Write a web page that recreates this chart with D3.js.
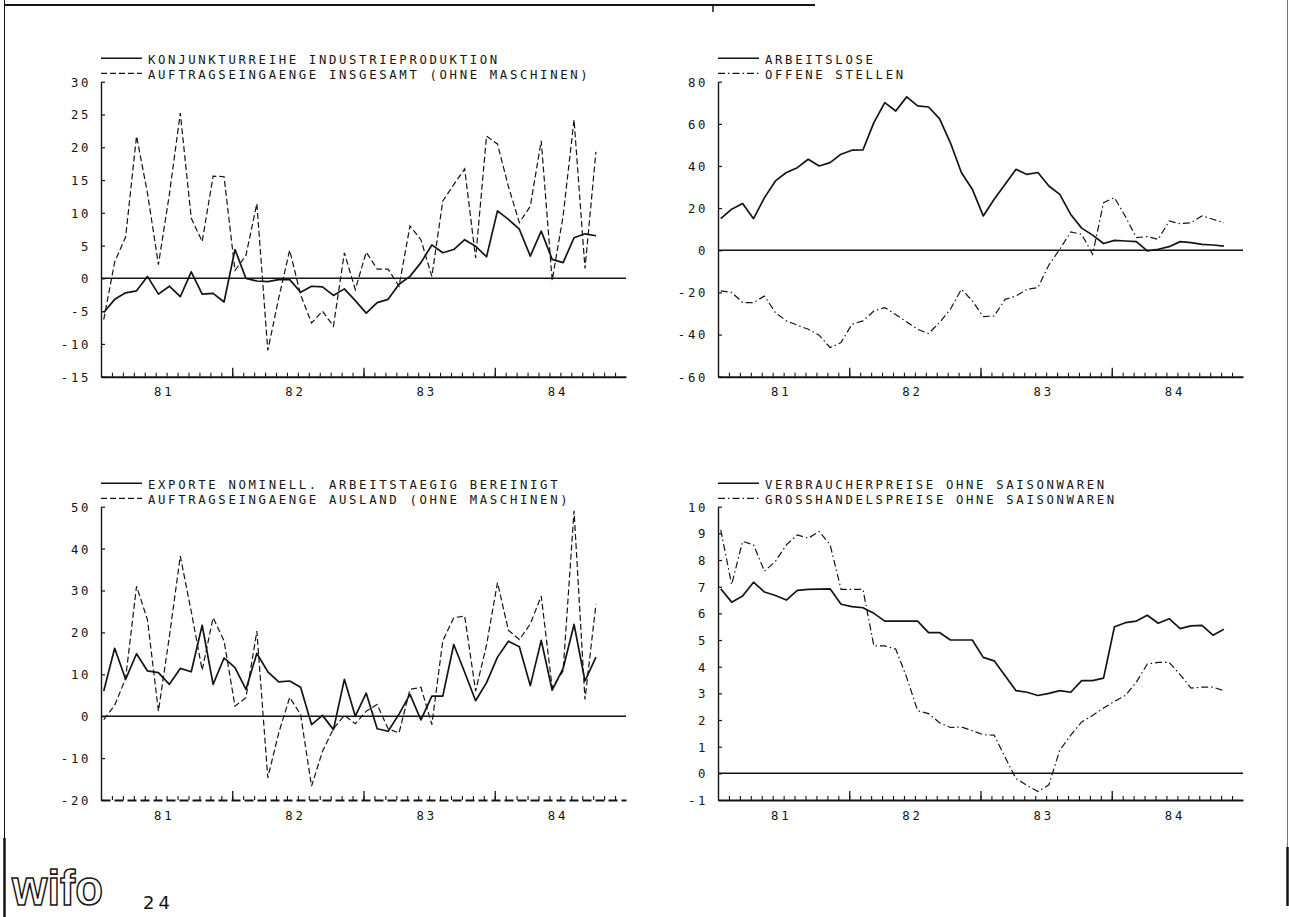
<!DOCTYPE html>
<html>
<head>
<meta charset="utf-8">
<script src="https://d3js.org/d3.v7.min.js"></script>
<style>
  html, body { margin: 0; padding: 0; background: #fff; }
  svg { display: block; }
</style>
</head>
<body>
<div id="chart"></div>
<script>
// year labels on the x axes (monthly data, Jan 1981 onward)
const yearLabels = ["81", "82", "83", "84"];

// top left: industrial production vs. total orders
const legendInd = ["KONJUNKTURREIHE INDUSTRIEPRODUKTION", "AUFTRAGSEINGAENGE INSGESAMT (OHNE MASCHINEN)"];
const ticksInd = [30, 25, 20, 15, 10, 5, 0, -5, -10, -15];
const industrieProduktion = [-5.2, -3.2, -2.2, -1.9, 0.3, -2.4, -1.2, -2.8, 1.0, -2.4, -2.3, -3.6, 4.4, 0, -0.4, -0.5,
  -0.2, -0.2, -2.1, -1.2, -1.3, -2.6, -1.6, -3.4, -5.3, -3.7, -3.2, -0.9, 0.3, 2.4, 5.1, 3.9, 4.4, 5.9, 4.9, 3.3,
  10.3, 9.0, 7.5, 3.4, 7.2, 2.9, 2.4, 6.2, 6.8, 6.5];
const auftraegeInsgesamt = [-6.3, 2.5, 6.3, 21.7, 13, 2.1, 12.8, 25.2, 9.2, 5.6, 15.6, 15.5, 1.2, 3.5, 11.4, -11,
  -3, 4.3, -2.5, -6.8, -5, -7.3, 3.9, -1.7, 4.0, 1.4, 1.4, -1.2, 8.0, 5.9, 0.3, 11.8, 14.3, 16.7, 3.1, 21.7,
  20.5, 14, 8.5, 11, 21, -0.3, 9.5, 24.2, 1.5, 19.3];

// top right: unemployed vs. vacancies
const legendArb = ["ARBEITSLOSE", "OFFENE STELLEN"];
const ticksArb = [80, 60, 40, 20, 0, -20, -40, -60];
const arbeitslose = [15, 19.5, 22.2, 15, 25, 32.9, 36.9, 39.2, 43.2, 40, 41.6, 45.6, 47.5, 47.6, 60.6, 70.1, 66.1,
  72.8, 68.5, 68, 62.5, 51, 36.9, 29, 16.3, 24.2, 31.3, 38.4, 36, 36.9, 30.5, 26.5, 17, 10.5, 7.2, 3.2, 4.7, 4.4,
  4.1, -0.3, 0.5, 1.7, 4.1, 3.6, 2.8, 2.5, 2.0];
const offeneStellen = [-19.3, -20, -24.8, -24.8, -21.7, -29.6, -33.5, -35.5, -37.5, -40.3, -46.2, -43.8, -35.1,
  -33.5, -28.8, -27.2, -30.5, -34, -37.5, -39.5, -34.3, -28, -18.5, -24, -31.5, -31.2, -23.3, -21.7, -18.5, -17.7,
  -7, 0.5, 8.7, 7.6, -1.9, 22.6, 25, 16, 6, 6.5, 5.2, 13.9, 12.6, 13.1, 16.3, 14.7, 13.1];

// bottom left: exports vs. foreign orders
const legendExp = ["EXPORTE NOMINELL. ARBEITSTAEGIG BEREINIGT", "AUFTRAGSEINGAENGE AUSLAND (OHNE MASCHINEN)"];
const ticksExp = [50, 40, 30, 20, 10, 0, -10, -20];
const exporte = [6, 16.2, 8.8, 14.9, 10.8, 10.4, 7.6, 11.4, 10.6, 21.7, 7.6, 13.9, 11.6, 6.4, 15, 10.6, 8.2, 8.4,
  6.9, -2, 0.2, -3.2, 8.8, 0, 5.5, -3, -3.6, 0.5, 5.2, -0.9, 4.8, 4.8, 17.1, 10.5, 3.7, 8, 14.1, 17.9, 16.6, 7.3,
  18.1, 6.2, 11.4, 21.9, 8.4, 14.1];
const auftraegeAusland = [-0.8, 2.6, 9, 31, 23, 1.2, 19, 38.2, 25, 11, 23.5, 18, 2.4, 4.4, 20.3, -14.7, -4, 4.5,
  0.4, -16.7, -8.4, -3, 0.2, -1.8, 1.2, 2.8, -3, -4, 6.4, 6.9, -2, 18, 23.5, 23.9, 6, 17, 31.9, 20.5, 18.3, 22,
  28.7, 6.8, 10.8, 49, 4, 26.7];

// bottom right: consumer vs. wholesale prices
const legendPreise = ["VERBRAUCHERPREISE OHNE SAISONWAREN", "GROSSHANDELSPREISE OHNE SAISONWAREN"];
const ticksPreise = [10, 9, 8, 7, 6, 5, 4, 3, 2, 1, 0, -1];
const verbraucherpreise = [6.92, 6.42, 6.65, 7.17, 6.8, 6.67, 6.5, 6.86, 6.9, 6.91, 6.92, 6.34, 6.25, 6.21, 6.0,
  5.71, 5.71, 5.71, 5.71, 5.28, 5.28, 5.0, 5.0, 5.0, 4.35, 4.22, 3.66, 3.1, 3.04, 2.92, 3.0, 3.1, 3.04, 3.48, 3.48,
  3.57, 5.5, 5.65, 5.71, 5.93, 5.63, 5.8, 5.43, 5.53, 5.55, 5.18, 5.4];
const grosshandelspreise = [9.13, 7.08, 8.7, 8.57, 7.58, 7.95, 8.57, 8.94, 8.82, 9.07, 8.57, 6.9, 6.9, 6.9, 4.78,
  4.78, 4.66, 3.6, 2.35, 2.24, 1.9, 1.72, 1.74, 1.6, 1.45, 1.43, 0.6, -0.2, -0.45, -0.68, -0.43, 0.87, 1.43, 1.93,
  2.17, 2.45, 2.7, 2.92, 3.42, 4.1, 4.16, 4.16, 3.7, 3.2, 3.23, 3.23, 3.1];

const width = 1289;
const height = 917;
const ink = "#141414";
const mono = "'DejaVu Sans Mono', 'Liberation Mono', monospace";

const svg = d3.select("#chart").append("svg")
    .attr("width", width)
    .attr("height", height);

// page frame, as on the scanned page
svg.append("line").attr("x1", 4.5).attr("x2", 4.5).attr("y1", 0).attr("y2", 838)
    .attr("stroke", ink).attr("stroke-width", 1);
svg.append("line").attr("x1", 4.5).attr("x2", 4.5).attr("y1", 838).attr("y2", height)
    .attr("stroke", ink).attr("stroke-width", 2.5);
svg.append("line").attr("x1", 1287.5).attr("x2", 1287.5).attr("y1", 0).attr("y2", 847)
    .attr("stroke", "#777").attr("stroke-width", 1);
svg.append("line").attr("x1", 1287.5).attr("x2", 1287.5).attr("y1", 847).attr("y2", 906)
    .attr("stroke", ink).attr("stroke-width", 2.5);
svg.append("line").attr("x1", 4).attr("x2", 815).attr("y1", 5).attr("y2", 5)
    .attr("stroke", ink).attr("stroke-width", 2);
svg.append("line").attr("x1", 713).attr("x2", 713).attr("y1", 6).attr("y2", 12)
    .attr("stroke", ink).attr("stroke-width", 1.5);

// panel layout
const plotWidth = 525;
const panels = [
    { left: 101, top: 81.7, bottom: 376.7, domain: [-15, 30], ticks: ticksInd, legend: legendInd,
      solid: industrieProduktion, dashed: auftraegeInsgesamt, dash: "6,3", axisDash: null },
    { left: 718, top: 81.7, bottom: 376.7, domain: [-60, 80], ticks: ticksArb, legend: legendArb,
      solid: arbeitslose, dashed: offeneStellen, dash: "7,3,1.5,3", axisDash: null },
    { left: 101, top: 506.7, bottom: 800, domain: [-20, 50], ticks: ticksExp, legend: legendExp,
      solid: exporte, dashed: auftraegeAusland, dash: "6,3", axisDash: "9,4" },
    { left: 718, top: 506.7, bottom: 800, domain: [-1, 10], ticks: ticksPreise, legend: legendPreise,
      solid: verbraucherpreise, dashed: grosshandelspreise, dash: "7,3,1.5,3", axisDash: null }
];

function styleText(sel) {
    sel.attr("font-family", mono)
        .attr("font-size", 12.3)
        .attr("fill", ink)
        .style("letter-spacing", "2.65px");
}

panels.forEach(p => {
    const g = svg.append("g");

    // months since Jan 1981
    const x = d3.scaleLinear().domain([0, 48]).range([p.left, p.left + plotWidth]);
    const y = d3.scaleLinear().domain(p.domain).range([p.bottom, p.top]);

    // y axis with inward ticks
    const yAxis = g.append("g")
        .attr("transform", `translate(${p.left},0)`)
        .call(d3.axisLeft(y).tickValues(p.ticks).tickSizeInner(-4).tickSizeOuter(0)
            .tickPadding(10).tickFormat(d => String(d)));
    yAxis.select(".domain").attr("stroke", ink).attr("stroke-width", 1.4);
    yAxis.selectAll(".tick line").attr("stroke", ink).attr("stroke-width", 1.2);
    yAxis.selectAll("text").call(styleText).attr("dy", "0.36em");

    // x axis: month ticks, longer year ticks
    const xAxis = g.append("g")
        .attr("transform", `translate(0,${p.bottom})`)
        .call(d3.axisBottom(x).tickValues(d3.range(1, 48)).tickSizeInner(-4).tickSizeOuter(0).tickFormat(""));
    xAxis.select(".domain").attr("stroke", ink).attr("stroke-width", 2)
        .attr("stroke-dasharray", p.axisDash);
    xAxis.selectAll(".tick line").attr("stroke", ink).attr("stroke-width", 1.1);

    const yearAxis = g.append("g")
        .attr("transform", `translate(0,${p.bottom})`)
        .call(d3.axisBottom(x).tickValues([12, 24, 36]).tickSizeInner(-9).tickSizeOuter(0).tickFormat(""));
    yearAxis.select(".domain").remove();
    yearAxis.selectAll(".tick line").attr("stroke", ink).attr("stroke-width", 1.3);

    const labelAxis = g.append("g")
        .attr("transform", `translate(-3,${p.bottom})`)
        .call(d3.axisBottom(x).tickValues([6, 18, 30, 42]).tickSize(0).tickPadding(11)
            .tickFormat((d, i) => yearLabels[i]));
    labelAxis.select(".domain").remove();
    labelAxis.selectAll("text").call(styleText);

    // zero line
    g.append("line")
        .attr("x1", x(0)).attr("x2", x(48))
        .attr("y1", y(0)).attr("y2", y(0))
        .attr("stroke", ink).attr("stroke-width", 1.5);

    // series
    const line = d3.line()
        .x((d, i) => x(i + 0.25))
        .y(d => y(d));

    g.append("path")
        .datum(p.dashed)
        .attr("d", line)
        .attr("fill", "none")
        .attr("stroke", ink)
        .attr("stroke-width", 1.2)
        .attr("stroke-dasharray", p.dash);

    g.append("path")
        .datum(p.solid)
        .attr("d", line)
        .attr("fill", "none")
        .attr("stroke", ink)
        .attr("stroke-width", 1.7)
        .attr("stroke-linejoin", "round");

    // legend
    g.append("line")
        .attr("x1", p.left).attr("x2", p.left + 41)
        .attr("y1", p.top - 23.5).attr("y2", p.top - 23.5)
        .attr("stroke", ink).attr("stroke-width", 1.5);
    g.append("line")
        .attr("x1", p.left).attr("x2", p.left + 41)
        .attr("y1", p.top - 8.4).attr("y2", p.top - 8.4)
        .attr("stroke", ink).attr("stroke-width", 1.2)
        .attr("stroke-dasharray", p.dash);

    g.selectAll("text.legend")
        .data(p.legend)
        .join("text")
        .attr("class", "legend")
        .attr("x", p.left + 47)
        .attr("y", (d, i) => p.top - 18 + i * 15)
        .call(styleText)
        .text(d => d);
});

// institute logo and page number
svg.append("text")
    .attr("x", 12)
    .attr("y", 905)
    .attr("textLength", 91)
    .attr("lengthAdjust", "spacingAndGlyphs")
    .attr("font-family", "'Liberation Sans', Arial, sans-serif")
    .attr("font-weight", "bold")
    .attr("font-size", 50)
    .attr("fill", "#fff")
    .attr("stroke", ink)
    .attr("stroke-width", 1.6)
    .text("wifo");

svg.append("text")
    .attr("x", 143)
    .attr("y", 909)
    .attr("font-family", "'DejaVu Sans', sans-serif")
    .attr("font-size", 18)
    .attr("fill", ink)
    .style("letter-spacing", "4px")
    .text("24");
</script>
</body>
</html>
